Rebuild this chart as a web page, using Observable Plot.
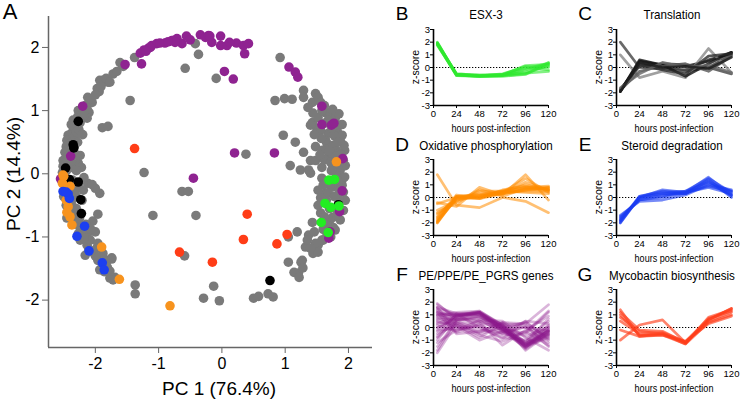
<!DOCTYPE html>
<html><head><meta charset="utf-8">
<script src="https://cdn.jsdelivr.net/npm/d3@7"></script>
<script src="https://cdn.jsdelivr.net/npm/@observablehq/plot@0.6"></script>
<style>
body{margin:0;background:#fff;}
#root{position:relative;width:741px;height:401px;overflow:hidden;font-family:"Liberation Sans",Arial,sans-serif;background:#fff;}
#root svg{position:absolute;}
.lbl{position:absolute;white-space:nowrap;line-height:1;color:#000;z-index:5;}
</style></head><body><div id="root"></div>
<script>
// ---------- Panel A: PCA scores (PC1, PC2) ----------
const pcTicks = [-2, -1, 0, 1, 2];
const grayPoints = [
 [-1.61,1.76],[-1.38,1.84],[-1.88,1.48],[-1.80,1.45],[-1.93,1.48],[-1.83,1.51],[-1.77,1.45],[-1.97,1.35],[-1.94,1.30],[-2.12,1.21],
 [-2.05,1.13],[-2.13,1.03],[-2.10,0.97],[-2.13,0.88],[-2.27,1.00],[-2.18,0.92],[-2.24,0.81],[-2.31,0.75],[-2.35,0.69],[-2.40,0.62],
 [-2.43,0.61],[-2.45,0.53],[-2.37,0.50],[-2.32,0.59],[-2.46,0.43],[-2.40,0.40],[-2.48,0.34],[-2.43,0.28],[-2.51,0.21],[-2.46,0.18],
 [-2.51,0.12],[-2.45,0.06],[-2.52,0.02],[-2.27,0.17],[-2.24,0.29],[-1.89,0.73],[-1.80,0.75],[-1.45,1.16],[-2.12,-0.15],[-2.19,-0.26],
 [-1.93,-0.31],[-2.05,-0.17],[-2.00,-0.23],[-2.35,-0.23],[-2.30,-0.36],[-2.37,-0.42],[-2.50,-0.36],[-2.46,-0.50],[-2.40,-0.58],[-2.32,-0.66],
 [-2.45,-0.70],[-2.29,-0.77],[-2.04,-0.75],[-1.96,-0.64],[-2.24,-0.86],[-2.12,-0.94],[-2.19,-0.94],[-2.24,-1.05],[-2.13,-1.13],[-2.08,-1.05],
 [-1.96,-1.10],[-2.04,-1.24],[-1.88,-1.26],[-1.96,-1.37],[-1.81,-1.37],[-1.81,-1.48],[-1.93,-1.52],[-1.74,-1.33],[-1.77,-1.65],[-1.69,-1.64],
 [-1.37,-1.76],[-1.37,-1.90],[-2.00,-0.92],[-2.16,-1.29],[-1.77,-1.54],[-1.72,-1.68],
 [-2.35,0.85],[-2.28,0.90],[-2.38,0.78],[-2.30,0.66],[-2.42,0.46],[-2.35,0.38],[-2.44,0.22],[-2.38,0.10],[-2.48,-0.05],[-2.42,-0.12],
 [-2.36,-0.10],[-2.47,-0.20],[-2.40,-0.30],[-2.44,-0.42],[-2.36,-0.52],[-2.30,-0.55],[-2.38,-0.68],[-2.34,-0.80],[-2.27,-0.95],[-2.18,-1.02],
 [-2.10,-1.20],[-2.00,-1.30],[-1.90,-1.40],[-1.86,-1.55],[-2.20,0.95],[-2.16,1.08],[-2.08,1.18],[-2.00,1.25],[-1.91,1.38],[-1.72,1.58],
 [-1.66,1.62],[-1.56,1.70],[-2.22,0.10],[-2.18,-0.06],[-2.26,-0.18],[-2.30,0.30],[-2.33,0.44],[-2.21,-0.42],
 [-2.26,0.70],[-2.20,0.62],[-2.28,0.50],[-2.38,0.20],[-2.30,0.05],[-2.32,-0.28],[-2.25,-0.70],[-2.15,-0.80],[-2.07,-0.88],[-1.98,-1.18],
 [0.92,1.84],[0.84,1.16],[0.99,1.19],[1.11,1.18],[1.29,1.32],[1.29,1.21],[1.43,1.13],[1.48,1.27],[1.52,1.21],[1.56,1.13],
 [1.44,0.96],[1.43,0.81],[1.50,0.72],[1.63,0.97],[1.71,0.96],[1.79,0.88],[1.68,0.64],[1.82,0.69],[1.87,0.53],[1.66,0.48],
 [1.48,0.43],[1.40,0.21],[1.48,0.21],[1.58,0.10],[1.68,0.26],[1.87,0.06],[1.90,-0.10],[1.92,-0.29],[1.76,-0.21],[1.64,-0.31],
 [1.56,-0.62],[1.75,-0.69],[1.87,-0.73],[1.79,-0.89],[1.60,-1.05],[1.52,-1.13],[1.44,-1.26],[1.32,-1.16],[1.19,-0.92],[1.05,-1.00],
 [1.27,-1.37],[1.21,-1.57],[1.05,-1.40],[1.25,-1.40],[1.28,-1.49],[1.14,-1.56],[1.22,-1.64],[1.16,0.50],[1.29,0.34],[1.08,0.13],
 [1.24,0.06],[1.40,0.01],[0.97,0.61],[1.37,0.06],[1.71,-0.73],[1.76,-0.85],[1.58,-1.05],[1.48,-1.10],[1.52,-1.24],[1.84,0.77],
 [1.90,0.61],[1.94,0.37],[1.95,0.13],[1.95,-0.42],[1.92,-0.58],[1.81,0.37],[1.75,0.13],[1.81,-0.02],[1.71,-0.18],[1.58,-0.07],
 [1.52,-0.26],[1.65,-0.42],[1.52,-0.50],[1.43,-0.77],[1.65,-0.81],[1.37,-0.97],[1.56,0.69],[1.64,0.53],[1.76,0.45],[1.59,0.37],
 [1.68,0.85],[1.52,0.89],[1.40,0.77],[1.92,0.21],[1.85,0.95],[1.75,1.02],[1.62,1.08],[1.93,0.45],[1.88,0.30],[1.84,0.15],
 [1.94,-0.05],[1.85,-0.40],[1.80,-0.55],[1.70,-0.55],[1.62,-0.68],[1.72,-1.00],[1.66,-0.98],[1.40,-1.18],[1.35,-1.05],[1.90,-0.18],
 [1.78,0.60],[1.70,0.36],[1.84,-0.12],[1.73,0.05],
 [1.62,0.22],[1.55,0.30],[1.72,0.18],[1.80,0.28],[1.60,-0.18],[1.68,-0.30],[1.78,-0.36],[1.86,-0.26],[1.74,0.72],[1.62,0.80],
 [1.36,1.05],[1.58,1.00],[1.90,0.78],[1.83,0.50],[1.57,0.56],[1.46,0.62],[1.56,-0.38],[1.60,-0.88],[1.46,-0.92],[1.82,-0.66],
 [-0.37,1.89],[-0.42,2.06],[-0.58,1.67],[-0.09,1.51],[-1.23,0.02],[0.38,0.31],[-0.63,-0.28],[-0.53,-0.28],[-1.09,-0.66],[-0.41,-0.66],
 [-0.59,-1.30],[-0.13,-1.78],[-0.29,-1.97],[-0.04,-2.01],[0.50,-1.97],[0.58,-1.94],[0.73,-1.90],[0.81,-1.95],[-1.74,-1.35]
];
const purplePoints = [
 [-1.53,1.73],[-1.27,1.74],[-1.29,1.91],[-1.23,1.96],[-1.16,1.99],[-1.11,2.03],[-1.03,2.06],[-0.90,2.07],[-0.77,2.11],[-0.71,2.14],
 [-0.63,2.06],[-0.56,2.18],[-0.34,2.20],[-0.26,2.16],[-0.21,2.19],[-0.16,2.08],[-0.02,2.18],[-0.02,2.03],[0.08,2.03],[0.23,2.07],
 [0.34,2.03],[0.42,2.06],[0.36,1.90],[0.04,1.62],[0.18,1.50],[1.06,1.69],[1.16,1.61],[1.20,1.53],[-2.20,1.07],[-2.39,0.28],
 [0.20,0.33],[0.83,0.33],[-0.45,-0.07],[1.58,1.07],[1.58,0.78],[1.73,0.77],[1.77,0.80],[1.91,0.24],[1.90,-0.27],[1.86,-0.60],
 [1.71,-0.92],[1.69,-1.02],[-2.55,-0.08],[-1.13,2.00],[-0.79,2.11],[-0.98,2.07],[-0.19,2.18],[-0.74,2.08],[-1.20,1.94],[-0.85,2.09],
 [-0.50,2.12],[0.12,2.08]
];
const blackPoints = [[-2.27,0.83],[-2.35,0.46],[-2.34,0.41],[-2.47,0.09],[-2.41,-0.09],[-2.27,-0.13],[-2.23,-0.41],[-2.22,-0.63],[1.84,-0.49],[0.76,-1.69]];
const orangePoints = [[-2.50,-0.04],[-2.52,-0.15],[-2.40,-0.20],[-2.46,-0.42],[-2.43,-0.52],[-2.40,-0.68],[-2.37,-0.81],[-1.90,-1.16],[-1.62,-1.67],[-0.82,-2.09],[1.81,0.19],[-2.51,-0.02],[-2.45,-0.61]];
const bluePoints = [[-2.51,-0.28],[-2.43,-0.32],[-2.41,-0.39],[-2.17,-0.83],[-2.29,-0.99],[-2.10,-1.22],[-1.89,-1.41],[-1.86,-1.52],[-2.46,-0.29]];
const greenPoints = [[1.69,-0.10],[1.78,-0.09],[1.63,-0.47],[1.72,-0.53],[1.85,-0.51],[1.57,-0.77],[1.68,-0.93]];
const redPoints = [[-1.38,0.40],[0.40,-0.64],[0.34,-1.04],[-0.67,-1.24],[-0.15,-1.40],[0.87,-1.11],[1.03,-0.96]];

// ---------- Panels B-G: z-scores over time ----------
const hours = [4, 24, 48, 72, 96, 120];
const hourTicks = [0, 24, 48, 72, 96, 120];
const zTicks = [-3, -2, -1, 0, 1, 2, 3];
const esx3 = [
 [1.95,-0.55,-0.65,-0.60,-0.10,0.35],[1.90,-0.60,-0.70,-0.65,-0.50,0.20],[1.85,-0.50,-0.60,-0.55,0.10,0.00],
 [2.00,-0.55,-0.70,-0.70,-0.55,0.40],[1.80,-0.60,-0.65,-0.50,0.00,-0.20],[1.90,-0.50,-0.60,-0.60,-0.20,0.30],
 [1.85,-0.65,-0.70,-0.65,-0.35,0.10],[1.95,-0.60,-0.70,-0.60,0.15,0.25],[1.75,-0.55,-0.65,-0.55,-0.45,-0.30]
];
const translation = [
 [-1.90,0.50,0.20,0.10,0.50,1.20],[-1.80,0.30,0.00,-0.20,0.60,1.10],[-1.70,0.10,0.30,0.20,0.00,1.00],
 [2.00,0.00,-0.10,-0.30,0.00,-0.50],[1.00,-0.80,-0.30,-0.80,1.50,-0.40],[-1.90,0.60,0.20,-0.70,0.30,1.20],
 [-1.80,-0.30,0.10,0.30,-0.30,0.90],[-1.85,0.20,-0.20,-0.50,0.90,1.10],[-1.60,-0.50,0.40,0.00,0.20,-0.40],
 [-1.90,0.40,0.00,0.10,-0.10,0.80]
];
const translationShades = ["#111","#222","#333","#444","#888","#111","#555","#2a2a2a","#666","#1a1a1a"];
const oxphos = [
 [-2.00,0.00,0.10,0.40,0.70,0.70],[-1.90,0.10,0.20,0.50,1.00,0.60],[-1.80,-0.10,0.00,0.30,0.60,0.80],
 [-1.50,0.00,0.30,0.40,0.50,0.50],[-1.30,-0.20,0.10,0.50,0.80,0.70],[1.80,-0.60,-0.80,0.00,-0.30,-1.20],
 [-0.40,-0.70,0.80,0.20,1.80,-0.20],[-0.50,0.00,-0.10,0.30,1.20,0.60],[-2.00,0.10,0.00,0.40,0.80,0.90],
 [-1.20,-0.40,0.50,0.50,0.40,0.30],[-1.70,0.10,-0.10,0.60,0.90,0.60],[-1.90,-0.10,0.20,0.30,0.60,0.80],
 [-1.60,0.20,0.00,0.40,1.50,0.40],[-1.00,-0.30,0.60,0.10,0.70,0.50]
];
const steroid = [
 [-2.00,0.00,0.30,0.40,1.60,0.20],[-1.80,0.10,0.50,0.30,1.40,0.00],[-1.60,-0.20,0.10,0.50,1.20,0.50],
 [-1.40,-0.30,-0.20,0.20,1.00,0.60],[-1.90,0.00,0.60,0.40,0.80,0.30],[-1.70,-0.10,0.20,0.30,1.30,0.10],
 [-2.00,0.10,0.40,0.50,1.50,0.40],[-1.50,-0.20,0.00,0.40,0.90,0.50],[-1.80,0.00,0.30,0.30,1.10,0.20]
];
const pepgrs = [
 [1.80,0.80,1.20,0.00,-1.40,-0.30],[1.50,1.00,1.10,-0.10,-1.50,-0.50],[1.20,0.90,1.30,0.20,-1.30,-0.20],
 [0.90,1.10,1.00,-0.20,-1.60,0.00],[0.60,0.70,1.20,0.10,-1.20,-0.60],[1.90,0.60,0.90,-0.30,-1.30,0.20],
 [0.30,0.90,1.10,0.00,-1.70,-0.40],[1.00,1.20,1.30,0.10,-1.40,-0.10],[0.00,0.80,1.00,-0.10,-1.50,-0.80],
 [-0.30,1.00,1.20,0.20,-1.30,-0.30],[-0.80,0.60,0.90,-0.20,-1.10,0.10],[1.40,0.50,0.80,0.30,-1.80,-0.50],
 [-1.00,0.90,1.10,0.00,-1.40,-0.70],[0.70,1.00,1.20,-0.30,-1.60,-0.20],
 [1.60,1.10,1.20,0.00,-1.50,-0.40],[1.10,0.95,1.15,-0.10,-1.45,-0.25],
 [-2.00,0.30,0.50,0.20,0.00,-1.20],[1.20,-0.50,-0.30,0.40,0.30,1.80],[-1.50,0.50,-0.20,-0.40,0.50,0.30],
 [0.50,0.00,0.40,-1.40,-0.20,0.90],[-0.50,0.20,-0.80,0.30,0.20,-1.50],[0.20,-0.30,0.60,0.50,-0.80,-1.80],
 [1.00,0.40,-0.50,0.00,0.40,-0.90],[-1.20,-0.20,0.20,-0.60,-0.50,1.20],[0.80,0.10,-1.00,-0.30,0.00,-0.60],
 [-0.70,1.10,0.00,-0.80,-1.00,0.50],[1.60,-0.40,0.30,0.10,-0.70,0.00],[-1.80,0.60,0.70,-0.50,0.10,-0.30],
 [0.40,0.30,-0.40,0.40,-1.20,0.70],[-0.20,-0.10,0.10,-0.90,0.50,-1.00],[0.00,0.70,0.50,-0.20,-0.40,1.30],
 [1.30,0.20,-0.60,-1.10,-0.30,-1.40]
];
const mycobactin = [
 [1.40,-0.70,-0.50,-1.20,0.60,1.50],[1.00,-0.60,-0.60,-1.30,0.80,1.40],[0.50,-0.50,-0.40,-1.10,0.30,0.90],
 [-1.00,0.20,0.60,-1.20,0.50,1.20],[0.80,-0.30,-0.50,-1.30,0.40,1.00],[-0.20,-0.70,-0.60,-1.10,0.70,1.30],
 [1.20,-0.20,-0.30,-1.20,0.60,1.50]
];

const FONT = "'Liberation Sans', Arial, sans-serif";
const root = document.getElementById("root");
const fmt = d => String(d);

function place(svg, left, top) {
  svg.style.left = left + "px";
  svg.style.top = top + "px";
  root.appendChild(svg);
}
function label(text, x, y, size, rotate, squeeze) {
  const el = document.createElement("div");
  el.className = "lbl";
  el.textContent = text;
  el.style.left = x + "px";
  el.style.top = y + "px";
  el.style.fontSize = size + "px";
  el.style.transform = "translate(-50%,-50%)" + (rotate ? " rotate(-90deg)" : "") + (squeeze ? ` scaleX(${squeeze})` : "");
  root.appendChild(el);
}

// Scatter
const dotOpts = (c) => ({x: d => d[0], y: d => d[1], r: 4.8, fill: c, stroke: "none"});
const scatter = Plot.plot({
  width: 380, height: 401,
  marginLeft: 48, marginRight: 8, marginTop: 16, marginBottom: 54,
  style: {background: "transparent", fontFamily: FONT, fontSize: "16px", color: "#000", overflow: "visible"},
  x: {domain: [-2.74, 2.38]},
  y: {domain: [-2.75, 2.49]},
  marks: [
    Plot.ruleX([-2.74], {stroke: "#666", strokeWidth: 1.5}),
    Plot.ruleY([-2.75], {stroke: "#666", strokeWidth: 1.5}),
    Plot.axisX({ticks: pcTicks, tickFormat: fmt, tickSize: 6, tickPadding: 4, stroke: "#666", color: "#000", label: null}),
    Plot.axisY({ticks: pcTicks, tickFormat: fmt, tickSize: 6, tickPadding: 3, stroke: "#666", color: "#000", label: null}),
    Plot.dot(grayPoints, dotOpts("#7a7a7a")),
    Plot.dot(purplePoints, dotOpts("#8f2391")),
    Plot.dot(blackPoints, dotOpts("#000000")),
    Plot.dot(orangePoints, dotOpts("#f7931e")),
    Plot.dot(bluePoints, dotOpts("#1c3ff0")),
    Plot.dot(greenPoints, dotOpts("#22ee22")),
    Plot.dot(redPoints, dotOpts("#ff3d17"))
  ]
});
place(scatter, 0, 0);
label("A", 10, 12, 22);
label("PC 1 (76.4%)", 219, 388, 19);
label("PC 2 (14.4%)", 13, 174, 19, true);

function panel(lines, color, opacity, shades) {
  const data = lines.flatMap((vals, i) => vals.map((v, j) => ({hour: hours[j], z: v, id: i, c: shades ? shades[i] : color})));
  return Plot.plot({
    width: 160, height: 127,
    marginLeft: 38, marginRight: 7, marginTop: 10, marginBottom: 41,
    style: {background: "transparent", fontFamily: FONT, fontSize: "9.5px", color: "#000", overflow: "visible"},
    x: {domain: [0, 120]},
    y: {domain: [-3, 3]},
    color: {type: "identity"},
    marks: [
      Plot.ruleY([0], {stroke: "#000", strokeWidth: 1.1, strokeDasharray: "1.3,1.7"}),
      Plot.lineY(data, {x: "hour", y: "z", z: "id", stroke: "c", strokeOpacity: opacity, strokeWidth: 2.7, strokeLinejoin: "round"}),
      Plot.ruleX([0], {stroke: "#000", strokeWidth: 1.6}),
      Plot.ruleY([-3], {stroke: "#000", strokeWidth: 1.6}),
      Plot.axisX({ticks: hourTicks, tickFormat: fmt, tickSize: 3, tickPadding: 2, label: null}),
      Plot.axisY({ticks: zTicks, tickFormat: fmt, tickSize: 3, tickPadding: 0.5, label: null})
    ]
  });
}

const colX = [395, 578];
const rowTop = [19, 149, 279];
const panels = [
  {letter: "B", title: "ESX-3", lines: esx3, color: "#2ee82e", op: 0.6, col: 0, row: 0},
  {letter: "C", title: "Translation", lines: translation, color: "#222", op: 0.8, col: 1, row: 0, shades: translationShades},
  {letter: "D", title: "Oxidative phosphorylation", lines: oxphos, color: "#ff8c00", op: 0.55, col: 0, row: 1},
  {letter: "E", title: "Steroid degradation", lines: steroid, color: "#1a3cf2", op: 0.6, col: 1, row: 1},
  {letter: "F", title: "PE/PPE/PE_PGRS genes", lines: pepgrs, color: "#8b1a8d", op: 0.32, col: 0, row: 2},
  {letter: "G", title: "Mycobactin biosynthesis", lines: mycobactin, color: "#ff3d1a", op: 0.65, col: 1, row: 2}
];
const titleY = [15, 146, 275.5];
const titleX = [486, 672];
for (const p of panels) {
  const svg = panel(p.lines, p.color, p.op, p.shades);
  const left = colX[p.col], top = rowTop[p.row];
  place(svg, left, top);
  const axisX = left + 38;
  label(p.letter, axisX - 31, titleY[p.row] - 2, 19);
  label(p.title, titleX[p.col], titleY[p.row], 13.5, false, 0.86);
  label("hours post-infection", axisX + 58, top + 10 + 76 + 23, 10.5, false, 0.86);
  label("z-score", axisX - 18, top + 10 + 38, 10.5, true);
}
</script></body></html>
